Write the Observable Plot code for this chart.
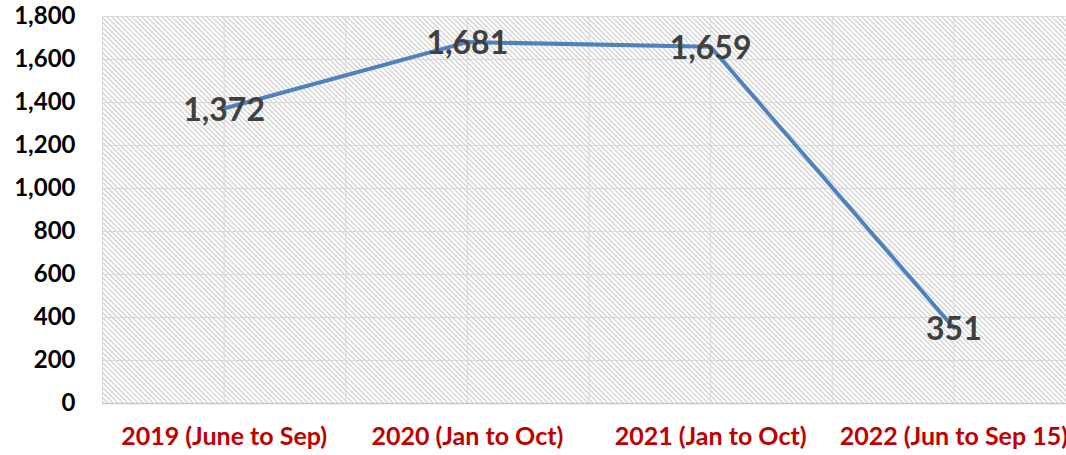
<!DOCTYPE html>
<html>
<head>
<meta charset="utf-8">
<script src="https://cdn.jsdelivr.net/npm/d3@7"></script>
<script src="https://cdn.jsdelivr.net/npm/@observablehq/plot@0.6"></script>
<style>
  html, body { margin: 0; padding: 0; background: #fff; overflow: hidden; }
  #chart svg { display: block; }
</style>
</head>
<body>
<div id="chart"></div>
<script>
const categories = ["2019 (June to Sep)", "2020 (Jan to Oct)", "2021 (Jan to Oct)", "2022 (Jun to Sep 15)"];
const values = [1372, 1681, 1659, 351];
const labels = ["1,372", "1,681", "1,659", "351"];
const yTicks = [0, 200, 400, 600, 800, 1000, 1200, 1400, 1600, 1800];

const data = categories.map((c, i) => ({i, category: c, value: values[i], label: labels[i]}));
const xGrid = d3.range(-0.5, categories.length, 0.5);

const font = "Lato, 'Open Sans', sans-serif";

const chart = Plot.plot({
  width: 1066,
  height: 455,
  marginTop: 16,
  marginBottom: 52,
  marginLeft: 102,
  marginRight: 0,
  style: {fontFamily: font, background: "#fff", overflow: "hidden"},
  x: {type: "linear", domain: [-0.5, categories.length - 0.5], range: [102, 1075]},
  y: {domain: [0, 1800]},
  marks: [
    Plot.rect([0], {x1: -0.5, x2: categories.length - 0.5, y1: 0, y2: 1800, fill: "url(#hatch)"}),
    Plot.ruleY(yTicks.filter(d => d > 0), {stroke: "#d9d9d9", strokeWidth: 1}),
    Plot.ruleX(xGrid, {stroke: "#d9d9d9", strokeWidth: 1}),
    Plot.ruleY([0], {stroke: "#c8c8c8", strokeWidth: 1.5}),
    Plot.axisY({ticks: yTicks, tickSize: 0, tickPadding: 27, tickFormat: d3.format(","), fontSize: 24, fontWeight: "bold", fill: "#000", label: null}),
    Plot.axisX({ticks: d3.range(categories.length), tickSize: 0, tickPadding: 24, tickFormat: i => categories[i], fontSize: 25, fontWeight: "bold", fill: "#c00000", label: null}),
    Plot.line(data, {x: "i", y: "value", stroke: "#4f81bd", strokeWidth: 4, strokeLinejoin: "round"}),
    Plot.text(data, {x: "i", y: "value", text: "label", fontSize: 32, fontWeight: "bold", fill: "#404040", dy: 2})
  ]
});

const defs = d3.select(chart).insert("defs", ":first-child");
const pat = defs.append("pattern")
  .attr("id", "hatch")
  .attr("patternUnits", "userSpaceOnUse")
  .attr("width", 5).attr("height", 5);
pat.append("rect").attr("width", 5).attr("height", 5).attr("fill", "#fff");
pat.append("path").attr("d", "M-1,-1 L6,6 M-1,4 L1,6 M4,-1 L6,1").attr("stroke", "#d4d4d4").attr("stroke-width", 1.3);

document.getElementById("chart").appendChild(chart);
</script>
</body>
</html>
